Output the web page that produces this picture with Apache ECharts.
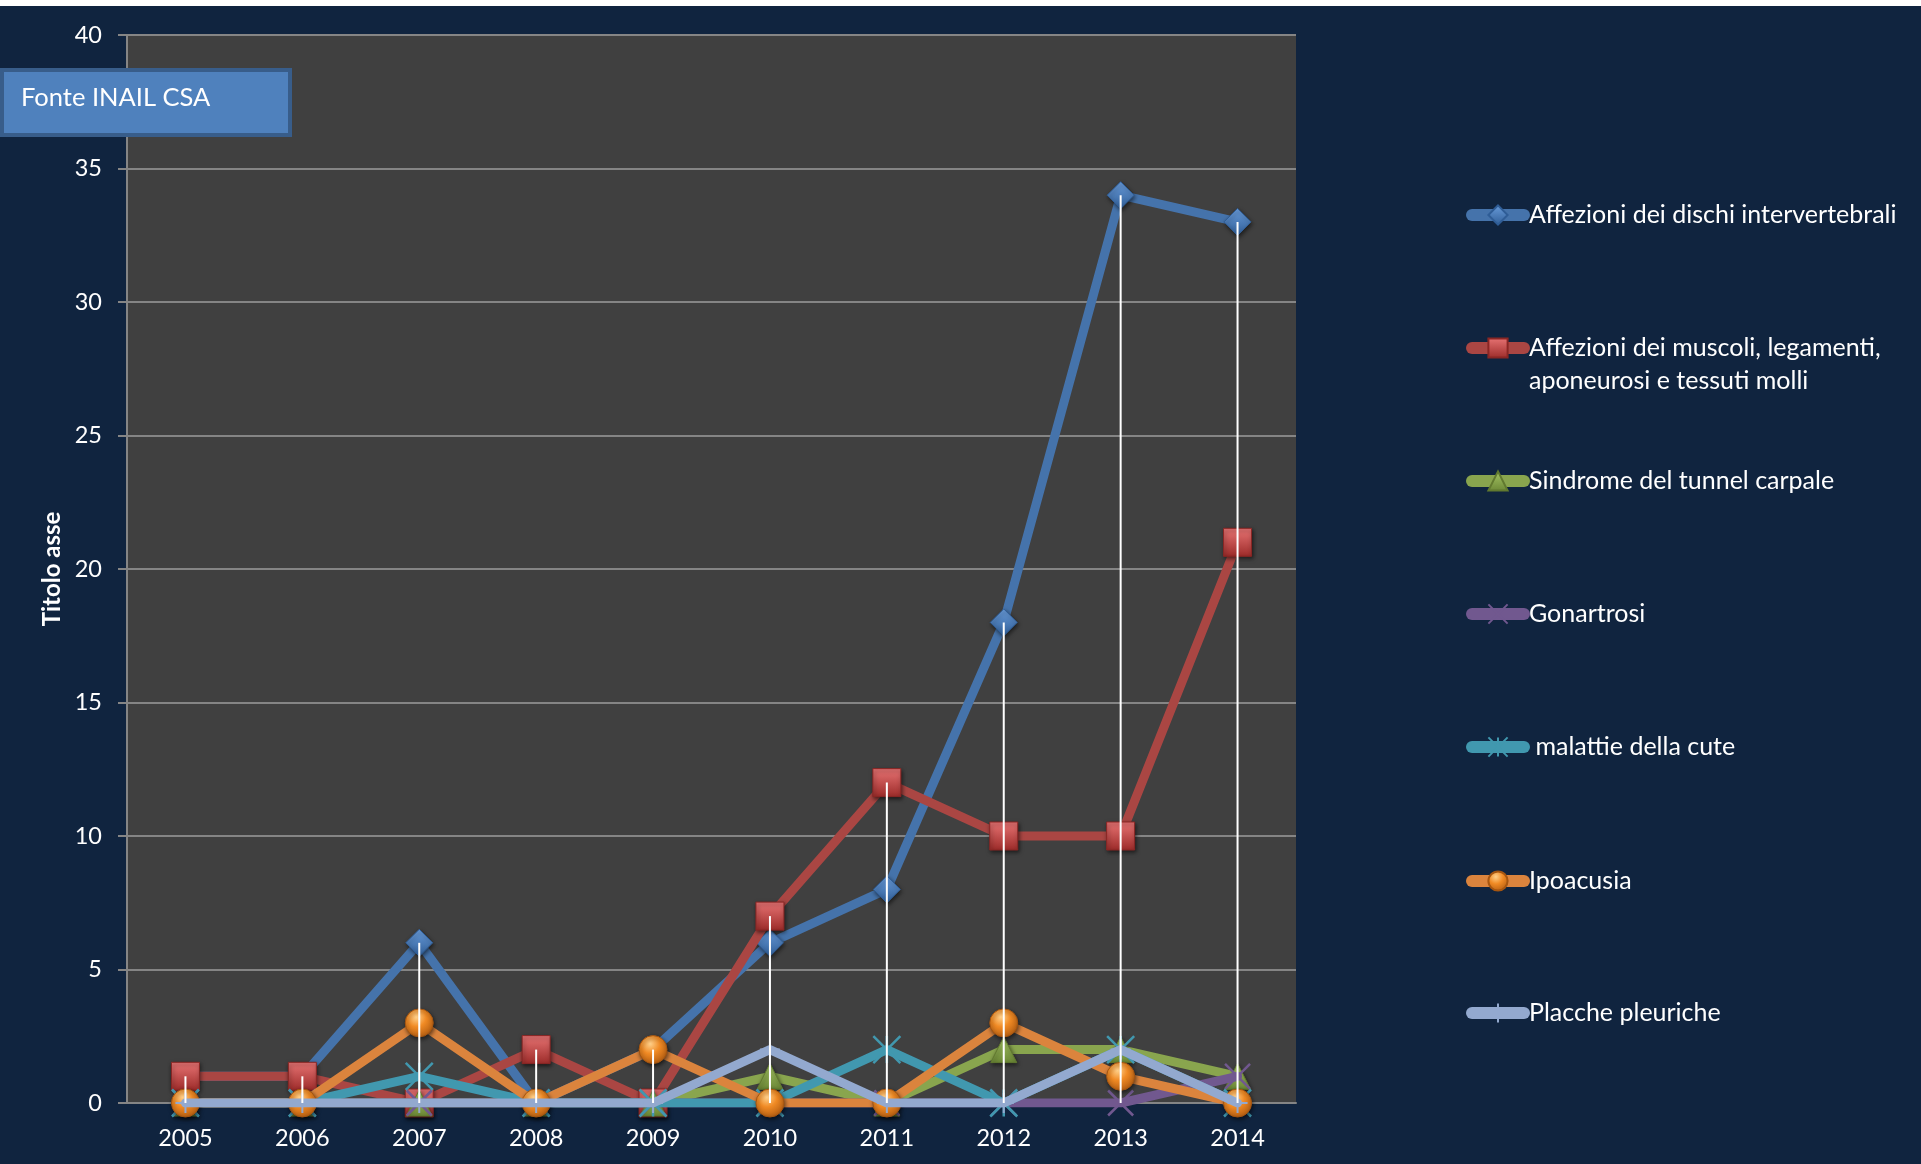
<!DOCTYPE html>
<html>
<head>
<meta charset="utf-8">
<script src="https://cdn.jsdelivr.net/npm/echarts@6/dist/echarts.min.js"></script>
<style>
html,body{margin:0;padding:0;background:#ffffff;}
#chart{width:1921px;height:1164px;}
</style>
</head>
<body>
<div id="chart"></div>
<script>
const categories = ['2005','2006','2007','2008','2009','2010','2011','2012','2013','2014'];
const seriesNames = [
  'Affezioni dei dischi intervertebrali',
  'Affezioni dei muscoli, legamenti, aponeurosi e tessuti molli',
  'Sindrome del tunnel carpale',
  'Gonartrosi',
  ' malattie della cute',
  'Ipoacusia',
  'Placche pleuriche'
];
const dischi     = [1, 1, 6, 0, 2, 6, 8, 18, 34, 33];
const muscoli    = [1, 1, 0, 2, 0, 7, 12, 10, 10, 21];
const tunnel     = [0, 0, 0, 0, 0, 1, 0, 2, 2, 1];
const gonartrosi = [0, 0, 0, 0, 0, 0, 0, 0, 0, 1];
const cute       = [0, 0, 1, 0, 0, 0, 2, 0, 2, 0];
const ipoacusia  = [0, 0, 3, 0, 2, 0, 0, 3, 1, 0];
const placche    = [0, 0, 0, 0, 0, 2, 0, 0, 2, 0];
const yMin = 0, yMax = 40, yStep = 5;
const yAxisTitle = 'Titolo asse';
const sourceLabel = 'Fonte INAIL CSA';

const allValues = [dischi, muscoli, tunnel, gonartrosi, cute, ipoacusia, placche];
const lineColors = ['#4573ab', '#aa4643', '#89a54e', '#71588f', '#4198af', '#db843d', '#93a9cf'];

function lin(c1, c2) {
  return {type:'linear', x:0, y:0, x2:0, y2:1, colorStops:[{offset:0,color:c1},{offset:1,color:c2}]};
}
const shadow = {shadowBlur:4, shadowColor:'rgba(0,0,0,0.55)', shadowOffsetX:1, shadowOffsetY:2};
const markerDefs = [
  {symbol:'diamond', size:27, itemStyle:Object.assign({color:lin('#6a9ddc','#2f5d96'), borderColor:'#2f5d96', borderWidth:1}, shadow)},
  {symbol:'rect', size:28, itemStyle:Object.assign({color:lin('#e87474','#9c2b29'), borderColor:'#8a2624', borderWidth:1}, shadow)},
  {symbol:'triangle', size:26, itemStyle:Object.assign({color:lin('#a7c766','#6b8735'), borderColor:'#61792f', borderWidth:1}, shadow)},
  {symbol:'path://M0,0L10,10M10,0L0,10', size:25, itemStyle:{color:'rgba(0,0,0,0)', borderColor:'#71588f', borderWidth:2.5}},
  {symbol:'path://M0,0L10,10M10,0L0,10M5,0L5,10', size:27, itemStyle:{color:'rgba(0,0,0,0)', borderColor:'#4198af', borderWidth:2.5}},
  {symbol:'circle', size:28, itemStyle:Object.assign({color:{type:'radial', x:0.4, y:0.3, r:0.75, colorStops:[{offset:0,color:'#ffd08a'},{offset:0.45,color:'#f08a24'},{offset:1,color:'#b05a10'}]}, borderColor:'#a55510', borderWidth:1}, shadow)},
  {symbol:'path://M5,0L5,10M0,5L10,5', size:20, itemStyle:{color:'rgba(0,0,0,0)', borderColor:'#93a9cf', borderWidth:2}}
];

const lineSeries = seriesNames.map((name, i) => ({
  name: name,
  type: 'line',
  data: allValues[i],
  z: 2 + i,
  symbol: markerDefs[i].symbol,
  symbolSize: markerDefs[i].size,
  showAllSymbol: true,
  lineStyle: {color: lineColors[i], width: 9, cap: 'round', join: 'round'},
  itemStyle: markerDefs[i].itemStyle,
  emphasis: {disabled: true},
  animation: false
}));

const hiLoData = categories.map((c, i) => {
  const vals = allValues.map(a => a[i]);
  return [i, Math.min.apply(null, vals), Math.max.apply(null, vals)];
});
const hiLoSeries = {
  type: 'custom',
  z: 20,
  silent: true,
  data: hiLoData,
  encode: {x: 0, y: [1, 2]},
  renderItem: function (params, api) {
    const x = api.value(0);
    const p1 = api.coord([x, api.value(1)]);
    const p2 = api.coord([x, api.value(2)]);
    return {type:'line', shape:{x1:p1[0], y1:p1[1], x2:p2[0], y2:p2[1]}, style:{stroke:'#ffffff', lineWidth:2}};
  },
  animation: false
};

const legendCenters = [215, 348, 481, 614, 747, 881, 1013];
const LH = 33;
const legends = seriesNames.map((name, i) => {
  const multi = (i === 1);
  return {
    data: [name],
    left: 1466,
    top: multi ? legendCenters[i] - 1.5 * LH : legendCenters[i] - 0.5 * LH,
    padding: 0,
    orient: 'vertical',
    itemWidth: 52,
    itemHeight: 24,
    selectedMode: false,
    lineStyle: {width: 12, cap: 'round'},
    formatter: function (n) { return n.indexOf(', aponeurosi') >= 0 ? '\n' + n.replace(', aponeurosi', ',\naponeurosi') : n; },
    textStyle: {color:'#ffffff', fontFamily:'Lato', fontSize:25, lineHeight:LH}
  };
});

const chart = echarts.init(document.getElementById('chart'), null, {renderer:'canvas'});
chart.setOption({
  backgroundColor: '#10243f',
  animation: false,
  textStyle: {fontFamily: 'Lato'},
  grid: {left:127, right:625, top:35, bottom:61, show:true, backgroundColor:'#404040', borderWidth:0, containLabel:false},
  legend: legends,
  xAxis: {
    type: 'category',
    data: categories,
    boundaryGap: true,
    axisLine: {show:true, lineStyle:{color:'#858585', width:2}},
    axisTick: {show:false},
    axisLabel: {color:'#ffffff', fontFamily:'Lato', fontSize:23.5, margin:23},
    splitLine: {show:false}
  },
  yAxis: {
    type: 'value',
    min: yMin, max: yMax, interval: yStep,
    name: yAxisTitle,
    nameLocation: 'middle',
    nameGap: 60,
    nameRotate: 90,
    nameTextStyle: {color:'#ffffff', fontFamily:'Lato', fontWeight:'bold', fontSize:24},
    axisLine: {show:true, lineStyle:{color:'#858585', width:2}},
    axisTick: {show:true, inside:false, length:9, lineStyle:{color:'#858585', width:2}},
    axisLabel: {color:'#ffffff', fontFamily:'Lato', fontSize:23.5, margin:25},
    splitLine: {show:true, lineStyle:{color:'#858585', width:2}}
  },
  graphic: [
    {type:'rect', z:100, shape:{x:0, y:0, width:1921, height:6}, style:{fill:'#ffffff'}},
    {type:'rect', z:100, shape:{x:2, y:70, width:288, height:65}, style:{fill:'#4f81bd', stroke:'#385d8a', lineWidth:4}},
    {type:'text', z:101, x:21, y:98, style:{text:sourceLabel, fill:'#ffffff', font:'25.5px Lato', verticalAlign:'middle', align:'left'}}
  ],
  series: lineSeries.concat([hiLoSeries])
});
</script>
</body>
</html>
